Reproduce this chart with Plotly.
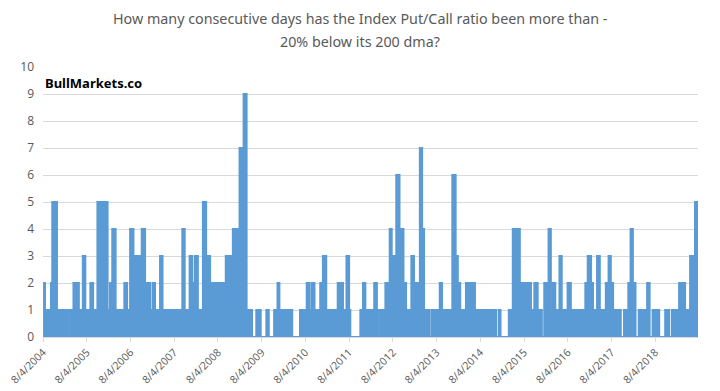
import plotly.graph_objects as go

# Step changes in the consecutive-day count (date where each level begins)
change_dates = [
    "2004-08-04", "2004-08-20", "2004-10-09", "2004-10-20", "2004-11-28", "2004-12-23",
    "2005-01-05", "2005-03-02", "2005-03-19", "2005-04-15", "2005-05-30", "2005-07-02",
    "2005-07-23", "2005-08-21", "2005-09-03", "2005-09-26", "2005-11-01", "2006-01-25",
    "2006-02-14", "2006-03-05", "2006-04-02", "2006-06-14", "2006-07-07", "2006-08-01",
    "2006-08-29", "2006-11-06", "2006-12-04", "2007-01-15", "2007-01-30", "2007-02-05",
    "2007-02-25", "2007-04-08", "2007-04-29", "2007-10-11", "2007-10-31", "2007-12-11",
    "2008-01-02", "2008-01-24", "2008-02-18", "2008-03-31", "2008-04-27", "2008-05-30",
    "2008-07-08", "2008-07-16", "2008-08-18", "2008-08-27", "2008-09-13", "2008-09-21",
    "2008-10-08", "2008-10-25", "2008-11-08", "2008-12-06", "2008-12-25", "2009-01-09",
    "2009-01-31", "2009-02-19", "2009-03-06", "2009-03-31", "2009-04-11", "2009-04-25",
    "2009-05-15", "2009-06-20", "2009-07-27", "2009-09-12", "2009-10-02", "2009-11-16",
    "2009-12-14", "2009-12-30", "2010-04-16", "2010-06-20", "2010-08-15", "2010-09-07",
    "2010-09-26", "2010-10-19", "2010-12-06", "2010-12-28", "2011-01-25", "2011-01-28",
    "2011-02-05", "2011-05-01", "2011-06-14", "2011-07-13", "2011-08-04", "2011-08-14",
    "2011-11-06", "2011-11-28", "2011-12-18", "2012-03-01", "2012-03-23", "2012-04-06",
    "2012-04-23", "2012-06-02", "2012-07-08", "2012-07-25", "2012-09-01", "2012-09-28",
    "2012-10-09", "2012-10-31", "2012-11-22", "2013-01-05", "2013-01-27", "2013-03-17",
    "2013-04-05", "2013-04-21", "2013-06-07", "2013-06-26", "2013-08-30", "2013-09-18",
    "2013-10-17", "2013-10-25", "2013-12-13", "2014-01-10", "2014-01-28", "2014-02-17",
    "2014-04-06", "2014-06-20", "2014-11-12", "2014-11-28", "2014-12-15", "2015-01-06",
    "2015-01-20", "2015-03-30", "2015-05-02", "2015-05-25", "2015-06-07", "2015-06-30",
    "2015-08-29", "2015-09-12", "2015-10-01", "2015-10-29", "2015-11-26", "2015-12-31",
    "2016-01-20", "2016-02-25", "2016-03-15", "2016-04-01", "2016-04-21", "2016-05-26",
    "2016-06-14", "2016-07-16", "2016-07-25", "2016-08-02", "2016-08-29", "2016-10-25",
    "2016-11-10", "2016-12-28", "2017-01-17", "2017-02-14", "2017-03-02", "2017-04-05",
    "2017-04-28", "2017-06-17", "2017-07-10", "2017-07-29", "2017-08-17", "2017-10-20",
    "2017-11-16", "2017-12-22", "2018-01-10", "2018-01-29", "2018-02-20", "2018-03-19",
    "2018-04-11", "2018-04-21", "2018-05-19", "2018-05-28", "2018-06-18", "2018-07-13",
    "2018-09-06", "2018-10-26", "2018-11-28", "2018-12-21", "2019-02-19", "2019-04-10",
    "2019-05-22", "2019-07-02", "2019-07-27",
]
consecutive_days = [
    2, 1, 2, 5, 1, 0,
    1, 0, 1, 2, 1, 3,
    1, 0, 2, 1, 5, 1,
    2, 4, 1, 2, 1, 4,
    3, 4, 2, 1, 0, 2,
    1, 3, 1, 4, 1, 3,
    2, 3, 1, 5, 3, 2,
    1, 2, 1, 2, 1, 2,
    3, 2, 3, 4, 3, 4,
    7, 4, 9, 1, 0, 1,
    0, 1, 0, 1, 0, 1,
    2, 1, 0, 1, 2, 1,
    2, 1, 2, 3, 1, 0,
    1, 2, 1, 3, 1, 0,
    1, 2, 1, 2, 1, 0,
    1, 2, 4, 3, 6, 2,
    4, 2, 1, 3, 2, 7,
    4, 1, 0, 1, 2, 1,
    0, 1, 6, 3, 2, 1,
    2, 1, 0, 1, 0, 1,
    0, 1, 4, 1, 4, 2,
    1, 2, 1, 2, 1, 0,
    2, 4, 1, 2, 1, 3,
    1, 0, 1, 2, 1, 0,
    1, 2, 3, 2, 1, 3,
    1, 2, 3, 2, 1, 0,
    1, 2, 4, 2, 0, 1,
    0, 1, 0, 2, 0, 1,
    0, 1, 0, 1, 2, 1,
    3, 5, 5,
]
tick_years = list(range(2004, 2019))
tick_dates = [f"{y}-08-04" for y in tick_years]
tick_labels = [f"8/4/{y}" for y in tick_years]
title_lines = [
    "How many consecutive days has the Index Put/Call ratio been more than -",
    "20% below its 200 dma?",
]

blue = "#5B9BD5"
grey = "#595959"

fig = go.Figure()
fig.add_trace(go.Scatter(
    x=change_dates, y=consecutive_days,
    mode="lines", line=dict(color=blue, width=2, shape="hv"),
    fill="tozeroy", fillcolor=blue, hoverinfo="skip",
))

annotations = [
    dict(text=title_lines[0], xref="paper", yref="paper", x=0.484, y=1.181,
         xanchor="center", yanchor="middle", showarrow=False,
         font=dict(size=14.3, color=grey, family="Noto Sans, sans-serif")),
    dict(text=title_lines[1], xref="paper", yref="paper", x=0.484, y=1.093,
         xanchor="center", yanchor="middle", showarrow=False,
         font=dict(size=14.3, color=grey, family="Noto Sans, sans-serif")),
    dict(text="<b>BullMarkets.co</b>", xref="paper", yref="paper",
         x=0.0, y=0.941, xanchor="left", yanchor="middle", showarrow=False,
         font=dict(size=13, color="black", family="Noto Sans, sans-serif")),
]

# the page body has an 8px margin, so the figure is 8px smaller on each axis
fig.update_layout(
    width=712, height=383,
    margin=dict(l=35, r=22, t=59, b=54, autoexpand=False),
    paper_bgcolor="white", plot_bgcolor="white",
    showlegend=False,
    font=dict(family="Open Sans, Noto Sans, sans-serif", color=grey),
    xaxis=dict(
        type="date", automargin=False,
        range=["2004-08-03 12:00", change_dates[-1]],
        tickmode="array", tickvals=tick_dates, ticktext=tick_labels,
        tickangle=-45, tickfont=dict(size=10.6, color=grey),
        ticklabeloverflow="allow",
        showgrid=False, showline=True, linecolor="#d9d9d9", linewidth=1,
        ticks="outside", ticklen=4, tickcolor="#d9d9d9",
        zeroline=False,
    ),
    yaxis=dict(
        automargin=False,
        range=[0, 10], dtick=1, tick0=0,
        showgrid=True, gridcolor="#d9d9d9", gridwidth=1,
        tickfont=dict(size=12, color=grey), ticks="", ticklabelstandoff=8,
        zeroline=False, showline=False,
    ),
    annotations=annotations,
)

fig.write_html("out.html")
